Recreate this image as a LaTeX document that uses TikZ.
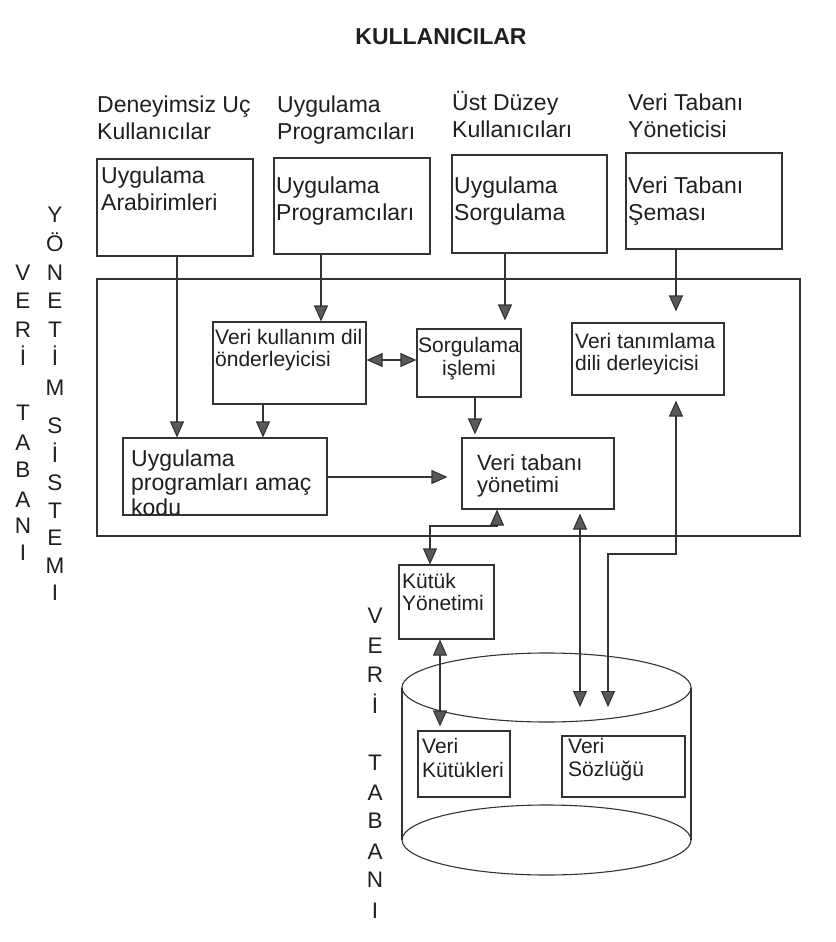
\documentclass[tikz,border=0pt]{standalone}
\usepackage{fontspec}
\setmainfont{Liberation Sans}
\usetikzlibrary{arrows.meta,fit,calc}

\begin{document}
\begin{tikzpicture}[x=1pt,y=-1pt,
  >={Triangle[width=14pt,length=16pt,fill=black!65]},
  line/.style={draw=black!80, line width=1.1pt},
  box/.style={draw=black!80, line width=1.1pt, inner sep=0pt},
  % multi-line labels are placed by the baseline of their last line
  txtL/.style={font=\fontsize{23}{27}\selectfont, align=left, inner sep=0pt, anchor=base west, text=black!88},
  txtM/.style={font=\fontsize{22}{22}\selectfont, align=left, inner sep=0pt, anchor=base west, text=black!88},
  txtS/.style={font=\fontsize{21}{#1}\selectfont, align=left, inner sep=0pt, anchor=base west, text=black!88},
  txtS/.default=22,
  letter/.style={font=\fontsize{22.5}{22.5}\selectfont, inner sep=0pt, anchor=base, text=black!88}
]
\useasboundingbox[fill=white] (0,0) rectangle (835,942);

% heading
\node[font=\bfseries\fontsize{23}{27}\selectfont, anchor=base, inner sep=0pt, text=black!88] (title) at (441,45) {KULLANICILAR};

% user groups
\node[txtL] (u1) at (97,139)  {Deneyimsiz Uç\\Kullanıcılar};
\node[txtL] (u2) at (277,139) {Uygulama\\Programcıları};
\node[txtL] (u3) at (452,137) {Üst Düzey\\Kullanıcıları};
\node[txtL] (u4) at (628,137) {Veri Tabanı\\Yöneticisi};

% interface boxes
\node[box, fit={(97,159) (253,256)}]  (b1) {};
\node[box, fit={(274,158) (430,254)}] (b2) {};
\node[box, fit={(452,155) (607,253)}] (b3) {};
\node[box, fit={(626,153) (782,249)}] (b4) {};
\node[txtL] (b1t) at (101,210) {Uygulama\\Arabirimleri};
\node[txtL] (b2t) at (276,220) {Uygulama\\Programcıları};
\node[txtL] (b3t) at (454,220) {Uygulama\\Sorgulama};
\node[txtL] (b4t) at (628,220) {Veri Tabanı\\Şeması};

% DBMS frame and its components
\node[box, fit={(97,279) (800,536)}] (dbms) {};
\node[box, fit={(213,322) (366,404)}] (vk)  {};
\node[box, fit={(417,329) (521,397)}] (si)  {};
\node[box, fit={(572,323) (724,395)}] (vt)  {};
\node[box, fit={(123,438) (327,515)}] (up)  {};
\node[box, fit={(462,438) (614,509)}] (vty) {};
\node[txtS] (vkx) at (215,366) {Veri kullanım dil\\önderleyicisi};
\node[txtS=23, anchor=base, align=center] (six) at (469,375) {Sorgulama\\işlemi};
\node[txtS] (vtx) at (575,370) {Veri tanımlama\\dili derleyicisi};
\node[txtL, font=\fontsize{23}{24.5}\selectfont] (upx) at (131,515) {Uygulama\\programları amaç\\kodu};
\node[txtM] (vtyx) at (477,492) {Veri tabanı\\yönetimi};

% file manager and database
\node[box, fit={(399,565) (494,639)}] (kt)  {};
\node[txtS] (ktx) at (402,610) {Kütük\\Yönetimi};

\coordinate (cyltop) at (546.5,687.5);
\coordinate (cylbot) at (546.5,840);
\draw[line] (402,687.5) -- (402,840) (691,687.5) -- (691,840);
\draw[line] (cyltop) ellipse [x radius=144.5, y radius=34.5];
\draw[line] (cylbot) ellipse [x radius=144.5, y radius=35];

\node[box, fit={(418,731) (510,797)}] (vkt) {};
\node[box, fit={(562,736) (685,797)}] (vs)  {};
\node[txtS=24] (vktx) at (422,777) {Veri\\Kütükleri};
\node[txtS=23] (vsx)  at (568,776) {Veri\\Sözlüğü};

% vertical captions (letter / baseline)
\foreach \ch/\yy [count=\i] in {Y/222,Ö/251,N/280,E/308,T/337,İ/365,M/395,
    S/433,İ/462,S/490,T/518,E/545,M/573,I/600}
  \node[letter] (ys\i) at (55,\yy) {\ch};
\foreach \ch/\yy [count=\i] in {V/280,E/308,R/337,İ/365,
    T/420,A/450,B/477,A/507,N/533,I/560}
  \node[letter] (vt\i) at (23,\yy) {\ch};
\foreach \ch/\yy [count=\i] in {V/623,E/653,R/682,İ/713,
    T/770,A/800,B/828,A/859,N/887,I/918}
  \node[letter] (db\i) at (375,\yy) {\ch};

% connector columns and rows
\coordinate (x177) at (177,0);
\coordinate (x263) at (263,0);
\coordinate (x321) at (321,0);
\coordinate (x430) at (430,0);
\coordinate (x440) at (440,0);
\coordinate (x475) at (475,0);
\coordinate (x497) at (497,0);
\coordinate (x505) at (505,0);
\coordinate (x580) at (580,0);
\coordinate (x608) at (608,0);
\coordinate (x676) at (676,0);
\coordinate (y360) at (0,360);
\coordinate (y477) at (0,477);
\coordinate (y526) at (0,526);
\coordinate (y554) at (0,554);
\coordinate (dictA) at (580,707);
\coordinate (dictB) at (608,707);

% connectors
\draw[line,->] (b1.south -| x177) -- (up.north -| x177);
\draw[line,->] (b2.south -| x321) -- (vk.north -| x321);
\draw[line,->,shorten >=8pt] (b3.south -| x505) -- (si.north -| x505);
\draw[line,->,shorten >=11pt] (b4.south -| x676) -- (vt.north -| x676);
\draw[line,<->] (vk.east |- y360) -- (si.west |- y360);
\draw[line,->] (vk.south -| x263) -- (up.north -| x263);
\draw[line,->,shorten >=14pt] (up.east |- y477) -- (vty.west |- y477);
\draw[line,->,shorten >=3pt] (si.south -| x475) -- (vty.north -| x475);
\draw[line,<->] (vty.south -| x497) -- (x497 |- y526) -- (x430 |- y526) -- (kt.north -| x430);
\draw[line,<->,shorten <=4pt] (vty.south -| x580) -- (dictA);
\draw[line,<->,shorten <=5pt] (vt.south -| x676) -- (x676 |- y554) -- (x608 |- y554) -- (dictB);
\draw[line,<->,shorten >=4pt] (kt.south -| x440) -- (vkt.north -| x440);
\end{tikzpicture}
\end{document}
